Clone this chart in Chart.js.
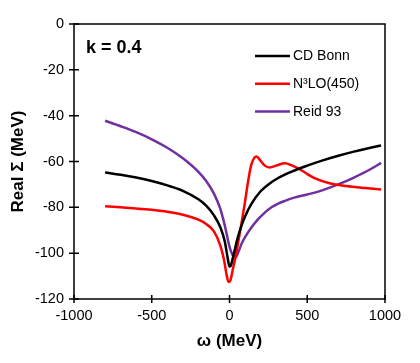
<!DOCTYPE html>
<html lang="en">
<head>
    <meta charset="UTF-8">
    <title>Real Sigma vs omega, k = 0.4</title>
    <script src="https://cdn.jsdelivr.net/npm/chart.js"></script>
    <style>
        body { margin: 0; background: #fff; }
        .chart-container { width: 420px; height: 363px; position: relative; }
    </style>
</head>
<body>
    <div class="chart-container">
        <canvas id="sigmaChart"></canvas>
    </div>

    <script>
        // values
        let omegaBonn = [-800, -700, -600, -500, -400, -300, -200, -150, -100, -60, -30, -12, 0, 8, 20, 34, 50, 77, 100, 141, 200, 250, 313, 400, 500, 600, 700, 800, 900, 975];
        let sigmaBonn = [-64.8, -65.8, -67, -68.5, -70.4, -72.8, -76.5, -79.3, -83.5, -88.5, -95, -102, -105.8, -105.5, -102.5, -98.5, -94, -88, -84, -78.5, -73, -70, -67.2, -64.4, -61.8, -59.5, -57.5, -55.7, -54.1, -53];

        let omegaN3LO = [-800, -700, -600, -500, -400, -300, -200, -150, -100, -60, -35, -20, -8, 0, 8, 20, 35, 50, 77, 100, 120, 140, 160, 175, 195, 227, 260, 300, 356, 400, 450, 500, 550, 643, 750, 875, 975];
        let sigmaN3LO = [-79.5, -80, -80.5, -81.1, -81.9, -83.2, -85.4, -87.3, -90.5, -96.5, -103, -109, -112.3, -112.6, -111.5, -107.5, -103, -97.5, -87, -77.5, -68.5, -61.5, -58.3, -57.8, -59.3, -61.8, -62.6, -61.8, -60.8, -61.7, -63.3, -65.5, -67.4, -69.5, -70.7, -71.6, -72.2];

        let omegaReid = [-800, -700, -600, -500, -400, -300, -200, -150, -100, -60, -30, 0, 20, 40, 60, 77, 100, 141, 180, 227, 270, 313, 360, 400, 450, 535, 600, 707, 800, 900, 975];
        let sigmaReid = [-42.2, -44.6, -47.2, -50.3, -54, -58.6, -64.5, -68.5, -74, -80.5, -88, -97.2, -100.8, -101.8, -99, -96, -93, -88.8, -85.5, -82.3, -80, -78.4, -77.1, -76.1, -75.2, -73.8, -72.5, -69.8, -67, -63.6, -60.6];

        let seriesNames = ['CD Bonn', 'N\u00b3LO(450)', 'Reid 93'];
        let seriesColors = ['#000000', '#ff0000', '#7030a0'];

        let xTicks = [-1000, -500, 0, 500, 1000];
        let yTicks = [-120, -100, -80, -60, -40, -20, 0];

        const FONT = '"Liberation Sans", Arial, sans-serif';

        function toPoints(xs, ys) {
            return xs.map((x, i) => ({ x: x, y: ys[i] }));
        }

        let seriesData = [
            toPoints(omegaBonn, sigmaBonn),
            toPoints(omegaN3LO, sigmaN3LO),
            toPoints(omegaReid, sigmaReid)
        ];

        // box, crossing tick marks, legend and the k label
        const decorations = {
            id: 'decorations',
            afterDraw(chart) {
                const c = chart.ctx;
                const a = chart.chartArea;
                const xs = chart.scales.x, ys = chart.scales.y;
                c.save();
                c.strokeStyle = '#000';
                c.lineWidth = 1.5;
                c.strokeRect(a.left, a.top, a.right - a.left, a.bottom - a.top);

                c.beginPath();
                xTicks.forEach(v => {
                    let px = xs.getPixelForValue(v);
                    c.moveTo(px, a.bottom - 4);
                    c.lineTo(px, a.bottom + 4);
                });
                yTicks.forEach(v => {
                    let py = ys.getPixelForValue(v);
                    c.moveTo(a.left - 5, py);
                    c.lineTo(a.left + 5, py);
                });
                c.stroke();

                // legend
                c.font = '14px ' + FONT;
                c.textBaseline = 'middle';
                c.textAlign = 'left';
                chart.data.datasets.forEach((ds, i) => {
                    let y = 56 + i * 27.8;
                    c.strokeStyle = ds.borderColor;
                    c.lineWidth = 2.5;
                    c.beginPath();
                    c.moveTo(255, y);
                    c.lineTo(290, y);
                    c.stroke();
                    c.fillStyle = '#000';
                    c.fillText(ds.label, 293, y + 0.5);
                });

                c.font = 'bold 18px ' + FONT;
                c.fillText('k = 0.4', 86, 48);
                c.restore();
            }
        };

        let ctx = document.getElementById('sigmaChart').getContext('2d');

        let sigmaChart = new Chart(ctx, {
            type: 'line',
            data: {
                datasets: seriesData.map((pts, i) => ({
                    label: seriesNames[i],
                    data: pts,
                    borderColor: seriesColors[i],
                    borderWidth: 2.5,
                    pointRadius: 0,
                    fill: false,
                    cubicInterpolationMode: 'monotone'
                }))
            },
            options: {
                responsive: true,
                maintainAspectRatio: false,
                animation: false,
                layout: { padding: { top: 24, right: 35, left: 0, bottom: 0 } },
                plugins: {
                    legend: { display: false },
                    tooltip: { enabled: false }
                },
                scales: {
                    x: {
                        type: 'linear',
                        min: -1000,
                        max: 1000,
                        afterFit: s => { s.height = 64; },
                        afterBuildTicks: s => { s.ticks = xTicks.map(v => ({ value: v })); },
                        grid: { display: false, drawTicks: false },
                        border: { display: false },
                        ticks: { color: '#000', padding: 8, maxRotation: 0, callback: v => String(v), font: { family: FONT, size: 14.5 } },
                        title: {
                            display: true,
                            text: '\u03c9 (MeV)',
                            color: '#000',
                            padding: { bottom: 11, top: 0 },
                            font: { family: FONT, size: 17, weight: 'bold' }
                        }
                    },
                    y: {
                        type: 'linear',
                        min: -120,
                        max: 0,
                        afterFit: s => { s.width = 74; },
                        afterBuildTicks: s => { s.ticks = yTicks.map(v => ({ value: v })); },
                        grid: { display: false, drawTicks: false },
                        border: { display: false },
                        ticks: { color: '#000', padding: 10, callback: v => String(v), font: { family: FONT, size: 14.5 } },
                        title: {
                            display: true,
                            text: 'Real \u03a3 (MeV)',
                            color: '#000',
                            padding: { top: 8, bottom: 0 },
                            font: { family: FONT, size: 17, weight: 'bold' }
                        }
                    }
                }
            },
            plugins: [decorations]
        });
    </script>
</body>
</html>
